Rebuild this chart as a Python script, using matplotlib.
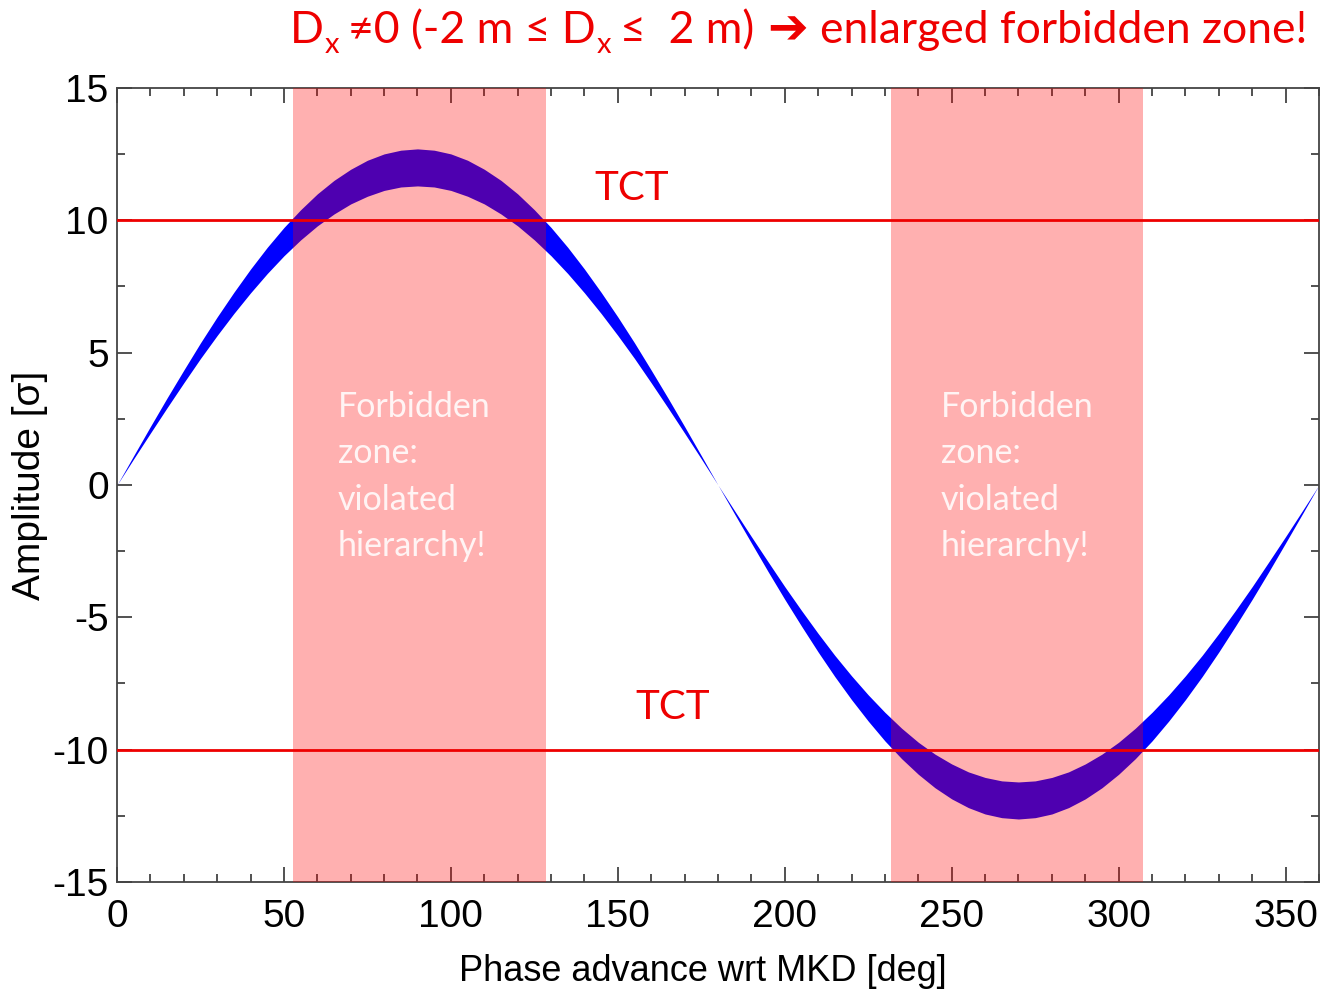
"""
phase_band.py
=============
MKD 위상차에 따른 진폭 밴드와 TCT 한계(±10σ), 금지 구간 표시.
"""

import matplotlib.pyplot as plt
from matplotlib.ticker import MultipleLocator
from matplotlib.transforms import IdentityTransform


# ---------------------------------------------------------------------------
# 데이터
# ---------------------------------------------------------------------------

phase = list(range(0, 365, 5))

# 밴드 바깥 경계 (|진폭| 큰 쪽)
amp_outer = [
    0.0, 1.11, 2.21, 3.29, 4.34, 5.37, 6.35, 7.28, 8.16, 8.98,
    9.73, 10.40, 11.00, 11.51, 11.93, 12.27, 12.51, 12.65, 12.70,
    12.65, 12.51, 12.27, 11.93, 11.51, 11.00, 10.40, 9.73, 8.98,
    8.16, 7.28, 6.35, 5.37, 4.34, 3.29, 2.21, 1.11, 0.0,
    -1.10, -2.19, -3.27, -4.32, -5.33, -6.31, -7.24, -8.11, -8.92,
    -9.67, -10.34, -10.93, -11.44, -11.86, -12.19, -12.43, -12.57, -12.62,
    -12.57, -12.43, -12.19, -11.86, -11.44, -10.93, -10.34, -9.67, -8.92,
    -8.11, -7.24, -6.31, -5.33, -4.32, -3.27, -2.19, -1.10, 0.0,
]

# 밴드 안쪽 경계 (|진폭| 작은 쪽)
amp_inner = [
    0.0, 0.99, 1.96, 2.92, 3.86, 4.78, 5.65, 6.48, 7.26, 7.99,
    8.66, 9.26, 9.79, 10.24, 10.62, 10.91, 11.13, 11.26, 11.30,
    11.26, 11.13, 10.91, 10.62, 10.24, 9.79, 9.26, 8.66, 7.99,
    7.26, 6.48, 5.65, 4.78, 3.86, 2.92, 1.96, 0.99, 0.0,
    -0.98, -1.95, -2.90, -3.84, -4.74, -5.61, -6.44, -7.21, -7.93,
    -8.59, -9.19, -9.72, -10.17, -10.54, -10.84, -11.05, -11.18, -11.22,
    -11.18, -11.05, -10.84, -10.54, -10.17, -9.72, -9.19, -8.59, -7.93,
    -7.21, -6.44, -5.61, -4.74, -3.84, -2.90, -1.95, -0.98, 0.0,
]

tct_level = [10.0, -10.0]
tct_label_pos = [(154.2, 11.2), (166.5, -8.4)]

forbidden_zones = [(52.7, 128.4), (231.8, 307.4)]
forbidden_text = "Forbidden\nzone:\nviolated\nhierarchy!"
forbidden_text_pos = [(66.2, 3.55), (246.8, 3.55)]

x_ticks = [0, 50, 100, 150, 200, 250, 300, 350]
y_ticks = [-15, -10, -5, 0, 5, 10, 15]

RED = "#ee0000"
BAND = "#0000ff"
TEXT_FONT = ["Lato", "DejaVu Sans"]
AXIS_FONT = ["Liberation Sans", "DejaVu Sans"]

plt.rcParams["axes.unicode_minus"] = False


# ---------------------------------------------------------------------------
# 텍스트 조각 이어 쓰기 (아래첨자 포함 제목용)
# ---------------------------------------------------------------------------

def draw_runs(fig, x0, y0, runs):
    """픽셀 좌표 (x0, y0)부터 (문자열, 크기, 세로 오프셋, 간격, 굵기) 조각을 차례로 그린다."""
    renderer = fig.canvas.get_renderer()
    x = x0
    for s, size, dy, gap, weight in runs:
        t = fig.text(x, y0 + dy, s, fontsize=size, color=RED, family=TEXT_FONT,
                     fontweight=weight, transform=IdentityTransform(),
                     va="baseline", ha="left")
        x += t.get_window_extent(renderer).width + gap


# ---------------------------------------------------------------------------
# 플롯
# ---------------------------------------------------------------------------

fig = plt.figure(figsize=(13.22, 9.91), dpi=100)
ax = fig.add_axes([0.0885, 0.110, 0.9092, 0.8012])

ax.fill_between(phase, amp_inner, amp_outer, color=BAND, lw=0, zorder=2)

for x0, x1 in forbidden_zones:
    ax.axvspan(x0, x1, color="red", alpha=0.31, lw=0, zorder=3)

for lv in tct_level:
    ax.axhline(lv, color=RED, lw=2.0, zorder=4)

for (tx, ty) in tct_label_pos:
    ax.text(tx, ty, "TCT", color=RED, fontsize=29, family=TEXT_FONT,
            ha="center", va="center", zorder=5)

for (tx, ty) in forbidden_text_pos:
    ax.text(tx, ty, forbidden_text, color="#fff4f4", fontsize=24.5,
            family=TEXT_FONT, ha="left", va="top", linespacing=1.55, zorder=5)

ax.set_xlim(0, 360)
ax.set_ylim(-15, 15)
ax.set_xticks(x_ticks)
ax.set_yticks(y_ticks)
ax.xaxis.set_minor_locator(MultipleLocator(10))
ax.yaxis.set_minor_locator(MultipleLocator(2.5))
ax.tick_params(which="both", direction="in", top=True, right=True,
               color="#333333", width=1.2)
ax.tick_params(which="major", length=11)
ax.tick_params(which="minor", length=6)
ax.tick_params(axis="x", which="major", pad=12)
ax.tick_params(axis="y", which="major", pad=6)
for lab in ax.get_xticklabels() + ax.get_yticklabels():
    lab.set_family(AXIS_FONT)
    lab.set_fontsize(28)
for sp in ax.spines.values():
    sp.set_color("#444444")
    sp.set_linewidth(1.3)

ax.set_xlabel("Phase advance wrt MKD [deg]", fontsize=26, family=AXIS_FONT)
ax.xaxis.set_label_coords(0.4875, -0.091)
ax.set_ylabel("Amplitude [σ]", fontsize=28, family=AXIS_FONT)
ax.yaxis.set_label_coords(-0.0574, 0.5)

# 제목: D_x ≠0 (-2 m ≤ D_x ≤  2 m) ➔ enlarged forbidden zone!
title_size = 32
sub_size = 21
draw_runs(fig, 290, 991 - 43, [
    ("D", title_size, 0, 1, "normal"),
    ("x", sub_size, -10, 9, "normal"),
    ("≠0 (-2 m ≤ D", title_size, 0, 1, "normal"),
    ("x", sub_size, -10, 9, "normal"),
    ("≤  2 m)", title_size, 0, 12, "normal"),
    ("➔", 35, 0, 12, "bold"),
    ("enlarged forbidden zone!", title_size, 0, 0, "normal"),
])

fig.savefig("out.png", dpi=100)
